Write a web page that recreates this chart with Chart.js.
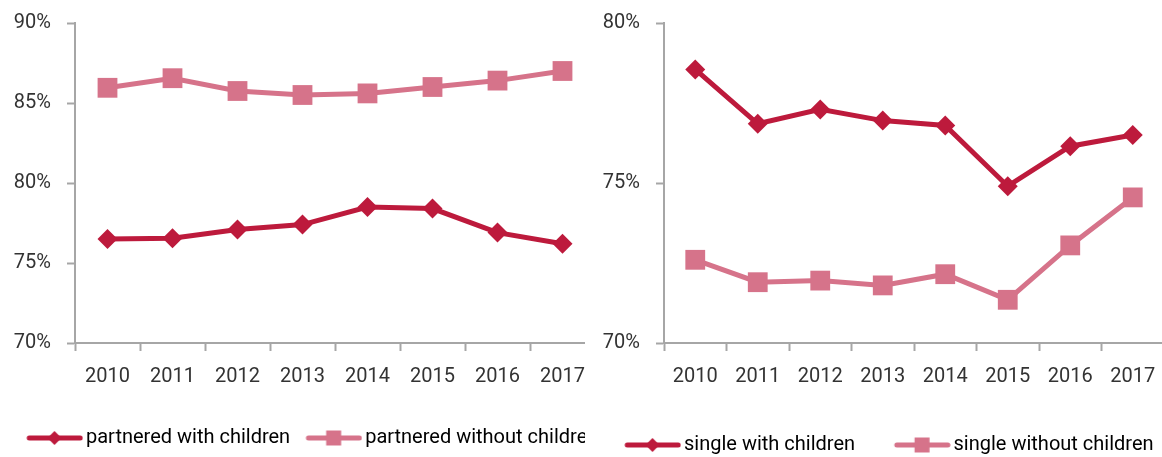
<!DOCTYPE html>
<html>
<head>
<meta charset="utf-8">
<script src="https://cdn.jsdelivr.net/npm/chart.js@4"></script>
<style>
  html, body { margin: 0; padding: 0; background: #fff; overflow: hidden; }
  .panel { position: absolute; top: 0; height: 457px; overflow: hidden; }
  #leftPanel { left: 0; width: 585px; }
  #rightPanel { left: 585px; width: 577px; }
  canvas { display: block; }
</style>
</head>
<body>
<div class="panel" id="leftPanel"><canvas id="chartPartnered" width="700" height="470"></canvas></div>
<div class="panel" id="rightPanel"><canvas id="chartSingle" width="700" height="470"></canvas></div>
<script>
const years = ['2010', '2011', '2012', '2013', '2014', '2015', '2016', '2017'];

const partneredWithChildren = [76.5, 76.55, 77.1, 77.4, 78.5, 78.4, 76.9, 76.2];
const partneredWithoutChildren = [85.95, 86.55, 85.75, 85.5, 85.6, 86.0, 86.4, 87.0];
const singleWithChildren = [78.55, 76.85, 77.3, 76.95, 76.8, 74.9, 76.15, 76.5];
const singleWithoutChildren = [72.6, 71.9, 71.95, 71.8, 72.15, 71.35, 73.05, 74.55];

const leftTicks = [70, 75, 80, 85, 90];
const rightTicks = [70, 75, 80];

const darkRed = '#BD1A3C';
const pink = '#D6738A';
const axisGrey = '#A6A6A6';
const textColor = '#333333';
const fontFamily = "Roboto, 'Noto Sans', sans-serif";
const tickSize = 20;
const legendSize = 20;

// little picture of line + marker for the legend
function legendIcon(color, shape) {
    const c = document.createElement('canvas');
    c.width = 64;
    c.height = 22;
    const g = c.getContext('2d');
    g.strokeStyle = color;
    g.fillStyle = color;
    g.lineWidth = 5;
    g.lineCap = 'round';
    g.beginPath();
    g.moveTo(10, 11);
    g.lineTo(61, 11);
    g.stroke();
    g.beginPath();
    if (shape === 'diamond') {
        g.moveTo(35.25, 4); g.lineTo(42.25, 11); g.lineTo(35.25, 18); g.lineTo(28.25, 11);
    } else {
        g.rect(27.75, 3.5, 15, 15);
    }
    g.closePath();
    g.fill();
    return c;
}

function makeChart(canvasId, names, series, ticks, layout) {
    const ctx = document.getElementById(canvasId).getContext('2d');
    return new Chart(ctx, {
        type: 'line',
        data: {
            labels: years,
            datasets: [{
                label: names[0],
                data: series[0],
                borderColor: darkRed,
                backgroundColor: darkRed,
                borderWidth: 5,
                pointStyle: 'rectRot',
                pointRadius: 10,
                pointHoverRadius: 10,
                pointBorderWidth: 0,
                tension: 0,
                legendIcon: legendIcon(darkRed, 'diamond'),
            }, {
                label: names[1],
                data: series[1],
                borderColor: pink,
                backgroundColor: pink,
                borderWidth: 5,
                pointStyle: 'rect',
                pointRadius: 14,
                pointHoverRadius: 14,
                pointBorderWidth: 0,
                tension: 0,
                legendIcon: legendIcon(pink, 'square'),
            }],
        },
        options: {
            responsive: false,
            animation: false,
            layout: {
                padding: { left: layout.left, top: 23, right: 0, bottom: layout.bottom }
            },
            plugins: {
                tooltip: { enabled: false },
                legend: {
                    position: 'bottom',
                    align: 'start',
                    labels: {
                        usePointStyle: true,
                        pointStyleWidth: 49.5,
                        boxHeight: 20,
                        padding: layout.legendPad,
                        color: textColor,
                        font: { family: fontFamily, size: legendSize },
                        generateLabels: (chart) => chart.data.datasets.map((ds, i) => ({
                            text: ds.label,
                            pointStyle: ds.legendIcon,
                            fillStyle: ds.borderColor,
                            strokeStyle: ds.borderColor,
                            lineWidth: 0,
                            hidden: false,
                            datasetIndex: i,
                        })),
                    },
                },
            },
            scales: {
                x: {
                    offset: true,
                    grid: {
                        offset: true,
                        drawOnChartArea: false,
                        drawTicks: true,
                        tickLength: 8,
                        tickWidth: 2,
                        color: axisGrey,
                    },
                    border: { display: true, color: axisGrey, width: 2 },
                    ticks: {
                        color: textColor,
                        padding: 13.5,
                        maxRotation: 0,
                        autoSkip: false,
                        font: { family: fontFamily, size: tickSize },
                    },
                    afterFit: (s) => { s.height = layout.xHeight; },
                },
                y: {
                    min: ticks[0],
                    max: ticks[ticks.length - 1],
                    afterBuildTicks: (s) => { s.ticks = ticks.map(v => ({ value: v })); },
                    grid: {
                        drawOnChartArea: false,
                        drawTicks: true,
                        tickLength: 8,
                        tickWidth: 2,
                        color: axisGrey,
                    },
                    border: { display: true, color: axisGrey, width: 2 },
                    ticks: {
                        color: textColor,
                        padding: 16,
                        font: { family: fontFamily, size: tickSize },
                        callback: (v) => v + '%',
                    },
                    afterFit: (s) => {
                        s.width = layout.yWidth;
                        s.paddingTop = 0;
                        s.paddingBottom = 0;
                    },
                },
                pad: {
                    type: 'linear',
                    position: 'right',
                    display: true,
                    grid: { display: false, drawTicks: false },
                    border: { display: false },
                    ticks: { display: false },
                    afterFit: (s) => { s.width = layout.padWidth; },
                },
            },
        },
    });
}

makeChart('chartPartnered',
    ['partnered with children', 'partnered without children'],
    [partneredWithChildren, partneredWithoutChildren],
    leftTicks,
    { left: 11, yWidth: 64, xHeight: 69.5, bottom: 12, legendPad: 15.5, padWidth: 105 });

makeChart('chartSingle',
    ['single with children', 'single without children'],
    [singleWithChildren, singleWithoutChildren],
    rightTicks,
    { left: 0.5, yWidth: 78.5, xHeight: 53, bottom: 5, legendPad: 39, padWidth: 121 });
</script>
</body>
</html>
